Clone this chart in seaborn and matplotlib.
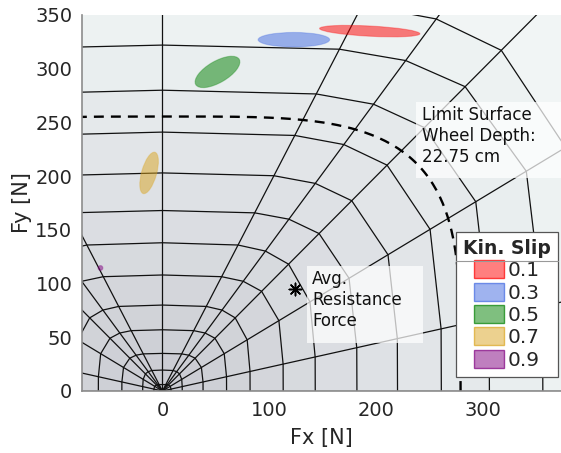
import numpy as np
import matplotlib
matplotlib.use("Agg")
import matplotlib.pyplot as plt
import seaborn as sns
from matplotlib.patches import Ellipse, Patch, Rectangle
from matplotlib.colors import LinearSegmentedColormap, to_rgba
from matplotlib.lines import Line2D

# Force-space mesh: ring intercepts on the Fy and Fx axes [N], spoke angles [deg]
ring_fy = [6, 19.5, 35, 57, 80, 108, 138, 168, 203, 241, 280, 322, 364]
ring_fx = [8, 18.5, 38, 60, 82, 113, 143, 182, 220, 261, 306, 356, 393]
spoke_deg = [0, 12.5, 31, 45, 53.5, 62.5, 90, 117.5, 126.5, 135, 149, 167.5, 180]
ring_exponent = 4.0

# Limit surface at 22.75 cm wheel depth (intercepts [N])
limit_fx, limit_fy = 279, 255.5

# Measured force ellipses per kinematic slip
slip_labels = ["0.1", "0.3", "0.5", "0.7", "0.9"]
slip_colors = ["red", "royalblue", "green", "goldenrod", "purple"]
ell_fx = [194, 123, 51.5, -12.5, -58]
ell_fy = [335, 327, 297, 203, 114.5]
ell_width = [94, 67, 47, 40, 4.5]
ell_height = [9.5, 13.5, 20, 14, 4.5]
ell_angle = [-3, 0, 30, 74, 0]

# Average resistance force [N]
avg_fx = [124]
avg_fy = [95]


def superellipse_radius(theta, a, b, n):
    c, s = np.abs(np.cos(theta)), np.abs(np.sin(theta))
    return (np.power(c / a, n) + np.power(s / b, n)) ** (-1.0 / n)


sns.set_theme(style="white")
plt.rcParams["font.family"] = ["DejaVu Sans"]

W, H = 561, 453
fig = plt.figure(figsize=(W / 100, H / 100), dpi=100)
ax = fig.add_axes([82 / W, 1 - 391 / H, 479 / W, 376 / H])
ax.set_facecolor("#f1f5f5")

band_cmap = LinearSegmentedColormap.from_list(
    "bands", ["#c8c9d0", "#dcdfe3", "#edf2f2"])

spokes = np.deg2rad(np.array(spoke_deg))
rings = []
for a, b in zip(ring_fx, ring_fy):
    r = superellipse_radius(spokes, a, b, ring_exponent)
    rings.append((r * np.cos(spokes), r * np.sin(spokes)))

# shaded bands, outermost first so inner rings paint over
for k in range(len(rings) - 1, -1, -1):
    xs, ys = rings[k]
    ax.fill(xs, ys, color=band_cmap(ring_fy[k] / ring_fy[-1]), lw=0, zorder=1)

# ring outlines
for xs, ys in rings:
    ax.plot(xs, ys, color="#111111", lw=0.9, zorder=2)

# spokes from the origin
for t in spokes:
    ax.plot([0, 700 * np.cos(t)], [0, 700 * np.sin(t)],
            color="#111111", lw=0.9, zorder=2)

# limit surface (dashed)
th = np.linspace(0, np.pi, 300)
rl = superellipse_radius(th, limit_fx, limit_fy, ring_exponent)
sns.lineplot(x=rl * np.cos(th), y=rl * np.sin(th), sort=False, estimator=None,
             color="black", lw=1.7, ax=ax, zorder=4)
ax.lines[-1].set_linestyle((0, (4.2, 3.0)))

# semi-transparent annotation boxes
ax.add_patch(Rectangle((0.697, 0.566), 0.36, 0.203, transform=ax.transAxes,
                       facecolor="white", alpha=0.72, lw=0, zorder=3, clip_on=False))
ax.text(0.709, 0.757, "Limit Surface\nWheel Depth:\n22.75 cm", transform=ax.transAxes,
        ha="left", va="top", fontsize=12, linespacing=1.2, color="#111111", zorder=6)
ax.add_patch(Rectangle((0.469, 0.128), 0.242, 0.204, transform=ax.transAxes,
                       facecolor="white", alpha=0.72, lw=0, zorder=3))
ax.text(0.480, 0.321, "Avg.\nResistance\nForce", transform=ax.transAxes,
        ha="left", va="top", fontsize=12, linespacing=1.2, color="#111111", zorder=6)

# force ellipses
for x, y, w, h, ang, c in zip(ell_fx, ell_fy, ell_width, ell_height, ell_angle, slip_colors):
    ax.add_patch(Ellipse((x, y), w, h, angle=ang, facecolor=to_rgba(c, 0.5),
                         edgecolor=to_rgba(c, 0.3), lw=0.8, zorder=5))

# average resistance force marker
sns.scatterplot(x=avg_fx, y=avg_fy, marker=(8, 2, 0), s=80, color="black",
                linewidth=1.1, ax=ax, zorder=6, legend=False)

ax.set_xlim(-75.3, 373)
ax.set_ylim(0, 350)
ax.set_xticks([0, 100, 200, 300])
ax.set_yticks(np.arange(0, 351, 50))
ax.tick_params(direction="in", length=4, width=0.8, color="#8c8c8c",
               labelsize=14, labelcolor="#262626", pad=7)
for side in ("top", "right"):
    ax.spines[side].set_visible(False)
for side in ("left", "bottom"):
    ax.spines[side].set_color("#8c8c8c")
    ax.spines[side].set_linewidth(1.2)
    ax.spines[side].set_zorder(7)
ax.set_xlabel("Fx [N]", fontsize=15, color="#262626", labelpad=6)
ax.set_ylabel("Fy [N]", fontsize=15, color="#262626", labelpad=2)

handles = [Patch(facecolor=to_rgba(c, 0.5), edgecolor=to_rgba(c, 0.7), lw=1)
           for c in slip_colors]
leg = ax.legend(handles, slip_labels, title="Kin. Slip", loc="upper right",
                bbox_to_anchor=(558 / W, 1 - 232 / H), bbox_transform=fig.transFigure,
                fontsize=14.5, title_fontsize=13.5, frameon=True, fancybox=False,
                framealpha=1, edgecolor="#555555", borderaxespad=0,
                handlelength=1.45, handleheight=1.0, handletextpad=0.2,
                labelspacing=0.12, borderpad=0.35)
leg.get_title().set_fontweight("bold")
leg.get_frame().set_linewidth(0.9)
leg.set_zorder(10)

# separator line under the legend title
fig.canvas.draw()
tb = leg.get_title().get_window_extent()
fb = leg.get_frame().get_window_extent()
ysep = (tb.y0 - 3) / fig.bbox.height
fig.add_artist(Line2D([fb.x0 / fig.bbox.width, fb.x1 / fig.bbox.width], [ysep, ysep],
                      transform=fig.transFigure, color="#999999", lw=0.8, zorder=11))

fig.savefig("out.png", dpi=100)
